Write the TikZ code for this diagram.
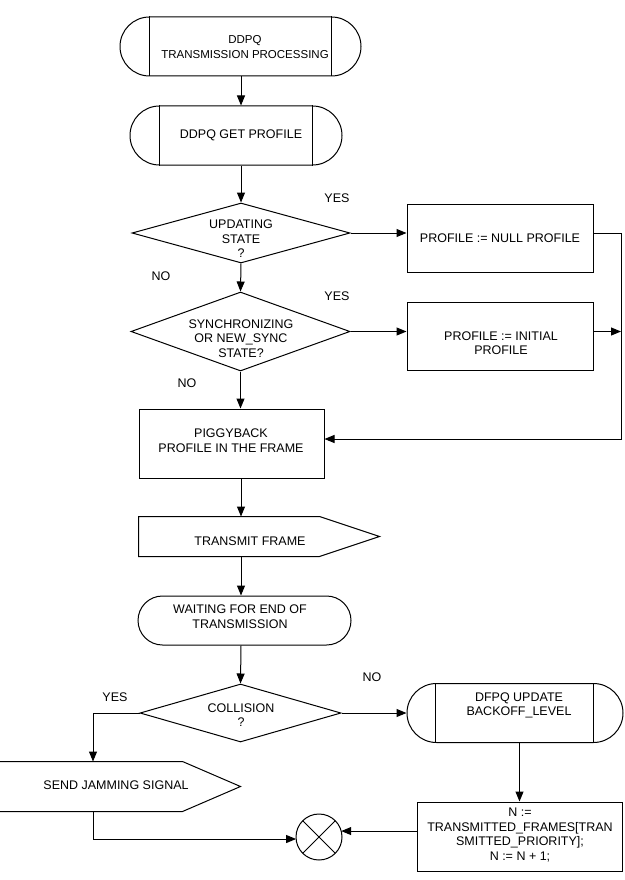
\documentclass[tikz,border=0pt]{standalone}
\usepackage{fontspec}
\setmainfont{Liberation Sans}
\usetikzlibrary{shapes.geometric,shapes.misc,arrows.meta}
\begin{document}
\begin{tikzpicture}[x=1pt,y=-1pt,
  line width=1pt,
  arr/.style={-{Triangle[length=10pt,width=8pt]}},
  box/.style={draw,rectangle,inner sep=0pt},
  term/.style={draw,rounded rectangle,inner sep=0pt},
  dec/.style={draw,diamond,inner sep=0pt},
  body/.style={rectangle,inner sep=0pt},
  txt/.style={align=center,inner sep=0pt,font=\fontsize{12.5}{14.6}\selectfont},
  lbl/.style={inner sep=0pt,font=\fontsize{12.5}{14.6}\selectfont},
  xing/.style={draw,circle,inner sep=0pt,outer sep=0pt,minimum size=46pt}
]
\useasboundingbox (0,0) rectangle (624,880);

% column coordinates
\coordinate (col) at (241,0);
\coordinate (rx) at (621,0);
\coordinate (yesx) at (93,0);

% start
\node[term,minimum width=241pt,minimum height=59pt] (s1) at (240.5,46.5) {};
\draw ([xshift=-91pt]s1.north) -- ([xshift=-91pt]s1.south)
      ([xshift=91pt]s1.north) -- ([xshift=91pt]s1.south);
\node[txt,font=\fontsize{11.5}{14.6}\selectfont] (s1t) at (245,47) {DDPQ\\TRANSMISSION PROCESSING};

% get profile
\node[term,minimum width=212pt,minimum height=59pt] (s2) at (236,135.5) {};
\draw ([xshift=-76.5pt]s2.north) -- ([xshift=-76.5pt]s2.south)
      ([xshift=76.5pt]s2.north) -- ([xshift=76.5pt]s2.south);
\node[txt] (s2t) at (241,135) {DDPQ GET PROFILE};

% decision 1
\node[dec,minimum width=218pt,minimum height=60pt] (d1) at (241,233) {};
\node[txt] (d1t) at (241,239) {UPDATING\\STATE\\?};

% box 1
\node[box,minimum width=186pt,minimum height=68pt] (b1) at (500,238) {};
\node[txt] (b1t) at (500,238) {PROFILE := NULL PROFILE};

% decision 2
\node[dec,minimum width=219pt,minimum height=79pt] (d2) at (240.5,331.5) {};
\node[txt] (d2t) at (241,338.5) {SYNCHRONIZING\\OR NEW\_SYNC\\STATE?};

% box 2
\node[box,minimum width=186pt,minimum height=68pt] (b2) at (500,336) {};
\node[txt] (b2t) at (501,343) {PROFILE := INITIAL\\PROFILE};

% piggyback
\node[box,minimum width=185pt,minimum height=69pt] (pg) at (231.5,443.5) {};
\node[txt] (pgt) at (231,440.5) {PIGGYBACK\\PROFILE IN THE FRAME};

% transmit frame
\node[body,minimum width=180pt,minimum height=39pt] (tf) at (229,536.5) {};
\draw (tf.north west) -- (tf.north east) -- ([xshift=60pt]tf.east) -- (tf.south east) -- (tf.south west) -- cycle;
\node[txt] (tft) at (250,541) {TRANSMIT FRAME};

% waiting
\node[term,minimum width=213pt,minimum height=49pt] (wt) at (244.5,620.5) {};
\node[txt] (wtt) at (240,616.5) {WAITING FOR END OF\\TRANSMISSION};

% collision
\node[dec,minimum width=201pt,minimum height=58pt] (d3) at (240.5,713) {};
\node[txt] (d3t) at (241,715) {COLLISION\\?};

% send jamming signal
\node[body,minimum width=187pt,minimum height=49pt] (sj) at (88.5,786.5) {};
\draw (sj.north west) -- (sj.north east) -- ([xshift=58pt]sj.east) -- (sj.south east) -- (sj.south west);
\node[txt] (sjt) at (116,785) {SEND JAMMING SIGNAL};

% DFPQ update
\node[term,minimum width=216pt,minimum height=59pt] (up) at (515,713) {};
\draw ([xshift=-79.5pt]up.north) -- ([xshift=-79.5pt]up.south)
      ([xshift=78.5pt]up.north) -- ([xshift=78.5pt]up.south);
\node[txt] (upt) at (519,705.5) {DFPQ UPDATE\\BACKOFF\_LEVEL};

% N box
\node[box,minimum width=205pt,minimum height=69pt] (nb) at (519.5,836.5) {};
\node[txt] (nbt) at (520,835) {N :=\\TRANSMITTED\_FRAMES[TRAN\\SMITTED\_PRIORITY];\\N := N + 1;};

% merge circle
\node[xing] (cx) at (319,837) {};
\draw (cx.north west) -- (cx.south east) (cx.north east) -- (cx.south west);

% labels
\node[lbl] (y1) at (337,198) {YES};
\node[lbl] (n1) at (161,276) {NO};
\node[lbl] (y2) at (337,296) {YES};
\node[lbl] (n2) at (187,383) {NO};
\node[lbl] (n3) at (372,677) {NO};
\node[lbl] (y3) at (115,697) {YES};

% connectors
\coordinate (pgin) at ([yshift=4.5pt]pg.east);
\draw[arr] (s1.south -| col) -- (s2.north -| col);
\draw[arr] (s2.south -| col) -- (d1.north);
\draw[arr] (d1.south) -- (d2.north);
\draw[arr] (d1.east) -- (d1.east -| b1.west);
\draw[arr] (d2.east) -- (d2.east -| b2.west);
\draw[arr] (d2.south) -- (d2.south |- pg.north);
\draw[arr] (d1.east -| b1.east) -- (d1.east -| rx) -- (rx |- pgin) -- (pgin);
\draw[arr] (d2.east -| b2.east) -- (d2.east -| rx);
\draw[arr] (pg.south -| col) -- (tf.north -| col);
\draw[arr] (tf.south -| col) -- (wt.north -| col);
\draw[arr] (wt.south -| col) -- (d3.north);
\draw[arr] (d3.west) -- (d3.west -| yesx) -- (sj.north -| yesx);
\draw[arr] (d3.east) -- (d3.east -| up.west);
\draw[arr] (nb.north |- up.south) -- (nb.north);
\draw[arr] (sj.south -| yesx) -- (yesx |- cx.185) -- (cx.185);
\draw[arr] (nb.west |- cx.15) -- (cx.15);
\end{tikzpicture}
\end{document}
